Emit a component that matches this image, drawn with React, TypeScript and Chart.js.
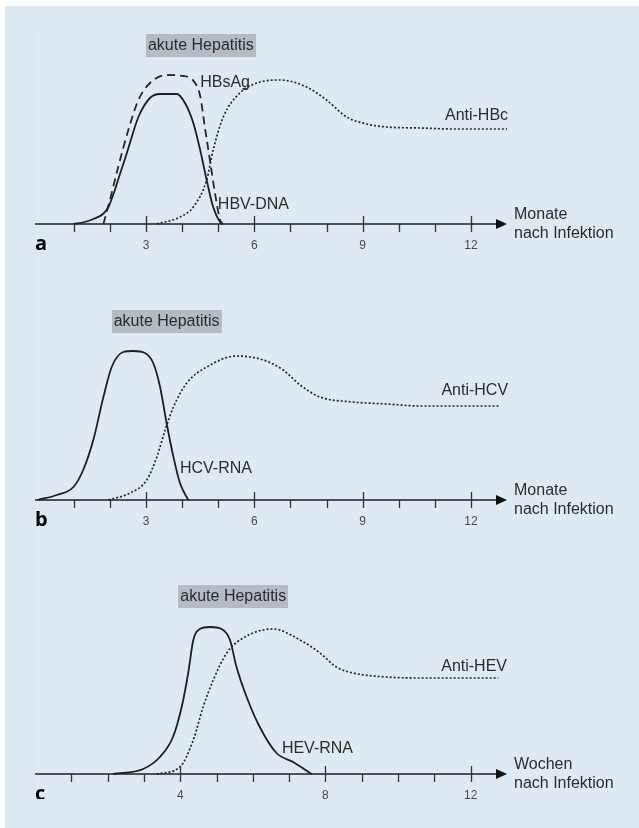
import React, { useEffect, useRef } from "react";
import { Chart, registerables } from "chart.js";

Chart.register(...registerables);

// ---------- Panel a: HBV (Monate nach Infektion) ----------
const hbvDnaMonths = [1.0, 1.3, 1.54, 1.81, 1.96, 2.09, 2.27, 2.47, 2.79, 3.11, 3.39, 3.85, 4.08, 4.31, 4.5, 4.68, 4.86, 5.05, 5.12];
const hbvDnaLevel = [0, 2, 5, 10, 17, 29, 49, 71, 107, 126, 130, 130, 121, 101, 74, 44, 17, 2, 0];
const hbsAgMonths = [1.82, 2.0, 2.23, 2.51, 2.79, 3.11, 3.57, 4.03, 4.36, 4.5, 4.63, 4.77, 4.91, 5.05, 5.12];
const hbsAgLevel = [0, 24, 57, 94, 124, 141, 149, 148, 141, 128, 97, 64, 31, 4, 0];
const antiHbcMonths = [3.3, 3.94, 4.31, 4.68, 4.86, 5.14, 5.6, 6.07, 6.71, 7.45, 8.0, 8.56, 9.11, 9.67, 10.59, 11.5, 13.0];
const antiHbcLevel = [0, 7, 17, 44, 74, 107, 131, 141, 144, 137, 124, 107, 100, 97, 96, 95, 95];

// ---------- Panel b: HCV (Monate nach Infektion) ----------
const hcvRnaMonths = [0, 0.53, 0.99, 1.26, 1.54, 1.82, 2.05, 2.37, 2.65, 2.97, 3.2, 3.39, 3.57, 3.76, 3.94, 4.17];
const hcvRnaLevel = [0, 5, 13, 30, 60, 103, 133, 148, 149, 147, 137, 113, 77, 43, 17, 0];
const antiHcvMonths = [1.96, 2.56, 3.02, 3.3, 3.53, 3.76, 4.13, 4.68, 5.51, 6.25, 6.8, 7.27, 7.82, 8.74, 9.67, 10.59, 12.78];
const antiHcvLevel = [0, 7, 20, 43, 70, 93, 117, 133, 144, 140, 130, 115, 103, 98, 96, 94, 94];

// ---------- Panel c: HEV (Wochen nach Infektion) ----------
const hevRnaWeeks = [2.15, 2.98, 3.44, 3.8, 4.04, 4.22, 4.36, 4.54, 4.82, 5.14, 5.37, 5.55, 5.83, 6.19, 6.65, 7.11, 7.62];
const hevRnaLevel = [0, 5, 17, 37, 67, 101, 134, 145, 147, 145, 134, 107, 77, 47, 21, 12, 0];
const antiHevWeeks = [3.35, 3.99, 4.36, 4.63, 4.91, 5.28, 5.73, 6.56, 7.3, 7.85, 8.3, 8.76, 9.68, 10.6, 12.76];
const antiHevLevel = [0, 7, 34, 67, 94, 121, 136, 145, 134, 121, 107, 101, 97, 96, 96];

// ---------- Axis ticks ----------
const monthTicks = [1, 2, 3, 4, 5, 6, 7, 8, 9, 10, 11, 12];
const monthLabels = [3, 6, 9, 12];
const weekTicks = [1, 2, 3, 4, 5, 6, 7, 8, 9, 10, 11, 12];
const weekLabels = [4, 8, 12];

const FONT = '"Liberation Sans", Arial, sans-serif';
const INK = "#1f1f1f";
const TEXT = "#2c2c2c";

type Style = "solid" | "dashed" | "dotted";
type Series = { name: string; x: number[]; y: number[]; style: Style };
type Note = { text: string; x: number; y: number; align: CanvasTextAlign };
type Spec = {
  letter: string;
  unit: string;
  xMin: number;
  xMax: number;
  ticks: number[];
  major: number[];
  series: Series[];
  notes: Note[];
  box: { x: number; y: number };
  left: number;
  top: number;
  width: number;
  height: number;
  padTop: number;
  padBottom: number;
  padRight: number;
};

const panels: Spec[] = [
  {
    letter: "a",
    unit: "Monate",
    xMin: -0.075,
    xMax: 13,
    ticks: monthTicks,
    major: monthLabels,
    series: [
      { name: "HBV-DNA", x: hbvDnaMonths, y: hbvDnaLevel, style: "solid" },
      { name: "HBsAg", x: hbsAgMonths, y: hbsAgLevel, style: "dashed" },
      { name: "Anti-HBc", x: antiHbcMonths, y: antiHbcLevel, style: "dotted" },
    ],
    notes: [
      { text: "HBsAg", x: 4.5, y: 141, align: "left" },
      { text: "Anti-HBc", x: 13.03, y: 108, align: "right" },
      { text: "HBV-DNA", x: 4.99, y: 19, align: "left" },
    ],
    box: { x: 4.52, y: 178.5 },
    left: 35,
    top: 33,
    width: 582,
    height: 237,
    padTop: 31,
    padBottom: 46,
    padRight: 110,
  },
  {
    letter: "b",
    unit: "Monate",
    xMin: -0.075,
    xMax: 13,
    ticks: monthTicks,
    major: monthLabels,
    series: [
      { name: "HCV-RNA", x: hcvRnaMonths, y: hcvRnaLevel, style: "solid" },
      { name: "Anti-HCV", x: antiHcvMonths, y: antiHcvLevel, style: "dotted" },
    ],
    notes: [
      { text: "HCV-RNA", x: 3.94, y: 31, align: "left" },
      { text: "Anti-HCV", x: 13.03, y: 109, align: "right" },
    ],
    box: { x: 3.57, y: 178.5 },
    left: 35,
    top: 270,
    width: 582,
    height: 276,
    padTop: 70,
    padBottom: 46,
    padRight: 110,
  },
  {
    letter: "c",
    unit: "Wochen",
    xMin: 0,
    xMax: 13,
    ticks: weekTicks,
    major: weekLabels,
    series: [
      { name: "HEV-RNA", x: hevRnaWeeks, y: hevRnaLevel, style: "solid" },
      { name: "Anti-HEV", x: antiHevWeeks, y: antiHevLevel, style: "dotted" },
    ],
    notes: [
      { text: "HEV-RNA", x: 6.8, y: 25, align: "left" },
      { text: "Anti-HEV", x: 13.0, y: 107, align: "right" },
    ],
    box: { x: 5.46, y: 177.5 },
    left: 35,
    top: 546,
    width: 582,
    height: 253,
    padTop: 68,
    padBottom: 25,
    padRight: 110,
  },
];

function makePlugin(spec: Spec) {
  return {
    id: "hepAxis" + spec.letter,
    afterDatasetsDraw(chart: any) {
      const { ctx, chartArea } = chart;
      const xs = chart.scales.x;
      const ys = chart.scales.y;
      const y0 = ys.getPixelForValue(0);
      const tip = xs.getPixelForValue(spec.xMax);
      ctx.save();
      // axis line
      ctx.strokeStyle = INK;
      ctx.lineWidth = 1.5;
      ctx.beginPath();
      ctx.moveTo(chartArea.left, y0);
      ctx.lineTo(tip - 6, y0);
      ctx.stroke();
      // arrow head
      ctx.fillStyle = "#111";
      ctx.beginPath();
      ctx.moveTo(tip, y0);
      ctx.lineTo(tip - 11, y0 - 5);
      ctx.lineTo(tip - 11, y0 + 5);
      ctx.closePath();
      ctx.fill();
      // tick marks
      ctx.lineWidth = 1.3;
      ctx.strokeStyle = "#333";
      for (const t of spec.ticks) {
        const px = Math.round(xs.getPixelForValue(t)) + 0.5;
        const major = spec.major.includes(t);
        ctx.beginPath();
        ctx.moveTo(px, major ? y0 - 8 : y0);
        ctx.lineTo(px, y0 + 8);
        ctx.stroke();
      }
      // tick labels
      ctx.fillStyle = "#4a4a4a";
      ctx.font = `12px ${FONT}`;
      ctx.textAlign = "center";
      ctx.textBaseline = "middle";
      for (const t of spec.major) {
        ctx.fillText(String(t), xs.getPixelForValue(t), y0 + 22);
      }
      // panel letter
      ctx.fillStyle = "#000";
      ctx.font = `bold 20px "Open Sans", ${FONT}`;
      ctx.textAlign = "left";
      ctx.fillText(spec.letter, chartArea.left, y0 + 20);
      // axis title
      ctx.fillStyle = TEXT;
      ctx.font = `16px ${FONT}`;
      const tx = tip + 7;
      ctx.fillText(spec.unit, tx, y0 - 9);
      ctx.fillText("nach Infektion", tx, y0 + 10);
      // series notes
      for (const n of spec.notes) {
        ctx.textAlign = n.align;
        ctx.fillText(n.text, xs.getPixelForValue(n.x), ys.getPixelForValue(n.y));
      }
      // "akute Hepatitis" box
      const bx = xs.getPixelForValue(spec.box.x);
      const by = ys.getPixelForValue(spec.box.y);
      const label = "akute Hepatitis";
      const w = ctx.measureText(label).width;
      ctx.fillStyle = "#b4bbc3";
      ctx.fillRect(Math.round(bx - w / 2 - 2), Math.round(by - 11.5), Math.round(w + 4), 23);
      ctx.fillStyle = TEXT;
      ctx.textAlign = "center";
      ctx.fillText(label, bx, by + 0.5);
      ctx.restore();
    },
  };
}

function Panel({ spec }: { spec: Spec }) {
  const ref = useRef<HTMLCanvasElement | null>(null);
  useEffect(() => {
    if (!ref.current) return;
    const datasets = spec.series.map((s) => ({
      label: s.name,
      data: s.x.map((v, i) => ({ x: v, y: s.y[i] })),
      borderColor: s.style === "solid" ? INK : "#262626",
      borderWidth: s.style === "dotted" ? 1.7 : 1.8,
      borderDash: s.style === "dashed" ? [8, 5] : s.style === "dotted" ? [2, 2] : [],
      pointRadius: 0,
      fill: false,
      tension: 0.4,
      cubicInterpolationMode: "monotone" as const,
      clip: false as const,
    }));
    const chart = new Chart(ref.current, {
      type: "line",
      data: { datasets },
      options: {
        animation: false,
        responsive: false,
        maintainAspectRatio: false,
        devicePixelRatio: 1,
        layout: { padding: { left: 0, right: spec.padRight, top: spec.padTop, bottom: spec.padBottom } },
        plugins: { legend: { display: false }, tooltip: { enabled: false } },
        scales: {
          x: { type: "linear", min: spec.xMin, max: spec.xMax, display: false },
          y: { type: "linear", min: 0, max: 160, display: false },
        },
      },
      plugins: [makePlugin(spec)],
    });
    return () => chart.destroy();
  }, [spec]);
  return (
    <canvas
      ref={ref}
      width={spec.width}
      height={spec.height}
      style={{ position: "absolute", left: spec.left, top: spec.top, width: spec.width, height: spec.height }}
    />
  );
}

export default function App() {
  return (
    <div style={{ position: "absolute", left: 0, top: 0, width: 639, height: 828, background: "#ffffff", overflow: "hidden" }}>
      <div style={{ position: "absolute", left: 5, top: 6, width: 634, height: 822, background: "#dde7f1" }} />
      <div style={{ position: "absolute", left: 35, top: 33, width: 582, height: 766, background: "#dfe9f3" }} />
      {panels.map((p) => (
        <Panel key={p.letter} spec={p} />
      ))}
    </div>
  );
}
